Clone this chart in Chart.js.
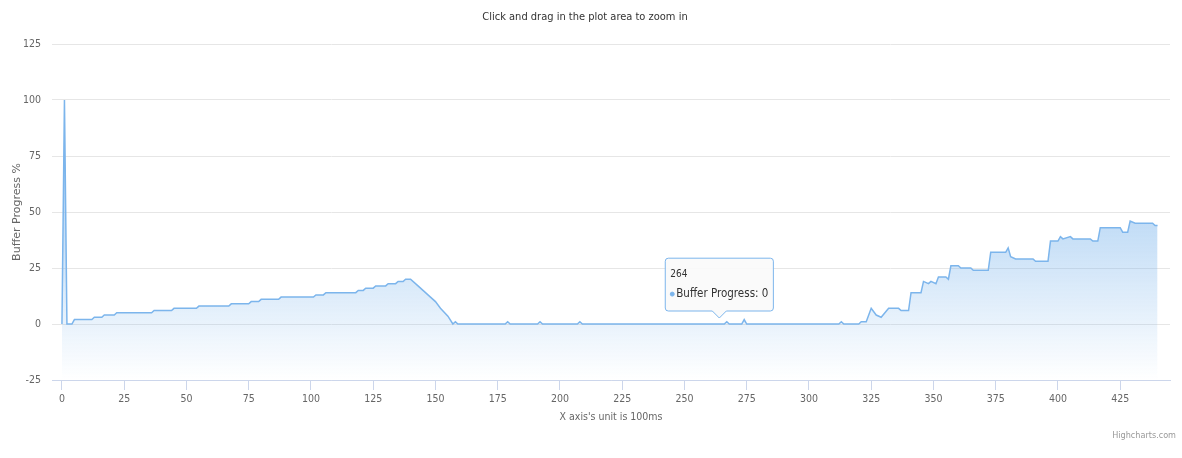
<!DOCTYPE html>
<html>
<head>
<meta charset="utf-8">
<script src="https://cdn.jsdelivr.net/npm/chart.js@4/dist/chart.umd.min.js"></script>
<style>
  html, body { margin: 0; padding: 0; background: #fff; }
  #wrap { width: 1182px; height: 458px; position: relative; }
</style>
</head>
<body>
<div id="wrap"><canvas id="bufferChart"></canvas></div>
<script>
// ─── data (break points of the curve) ───
const timeSteps = [0, 1, 2, 4, 5, 12, 13, 16, 17, 21, 22, 36, 37, 44, 45, 54, 55, 67, 68, 75, 76, 79, 80, 87, 88,
    101, 102, 105, 106, 118, 119, 121, 122, 125, 126, 130, 131, 134, 135, 137, 138, 140, 143, 145, 146, 148, 150,
    152, 155, 157, 158, 159, 178, 179, 180, 191, 192, 193, 207, 208, 209, 264, 266, 267, 268, 273, 274, 275,
    312, 313, 314, 320, 321, 323, 325, 327, 329, 332, 336, 337, 340, 341, 345, 346, 348, 349, 351, 352, 355,
    356, 357, 360, 361, 365, 366, 372, 373, 379, 380, 381, 383, 390, 391, 396, 397, 400, 401, 402, 405, 406,
    413, 414, 416, 417, 425, 426, 428, 429, 431, 438, 439, 440];
const bufferProgress = [0, 100, 0, 0, 2, 2, 3, 3, 4, 4, 5, 5, 6, 6, 7, 7, 8, 8, 9, 9, 10, 10, 11, 11, 12,
    12, 13, 13, 14, 14, 15, 15, 16, 16, 17, 17, 18, 18, 19, 19, 20, 20, 17, 15, 14, 12, 10,
    7, 3.5, 0, 1, 0, 0, 1, 0, 0, 1, 0, 0, 1, 0, 0, 0, 1, 0, 0, 2, 0,
    0, 1, 0, 0, 1, 1, 7, 4, 3, 7, 7, 6, 6, 14, 14, 19, 18, 19, 18, 21, 21,
    20, 26, 26, 25, 25, 24, 24, 32, 32, 34, 30, 29, 29, 28, 28, 37, 37, 39, 38, 39, 38,
    38, 37, 37, 43, 43, 41, 41, 46, 45, 45, 44, 44];
const xTicks = [0, 25, 50, 75, 100, 125, 150, 175, 200, 225, 250, 275, 300, 325, 350, 375, 400, 425];
const yTicks = [-25, 0, 25, 50, 75, 100, 125];
const tooltipAt = 264;

const NARROW = "'Liberation Sans Narrow', 'DejaVu Sans Condensed', sans-serif";

// Highcharts style credits in the corner
const creditsPlugin = {
    id: 'credits',
    afterDraw(chart) {
        const c = chart.ctx;
        c.save();
        c.font = '9px ' + NARROW;
        c.fillStyle = '#999';
        c.textAlign = 'right';
        c.textBaseline = 'alphabetic';
        c.fillText('Highcharts.com', 1176, 438);
        c.restore();
    }
};

window.onload = function() {
    const ctx = document.getElementById('bufferChart');
    const chart = new Chart(ctx, {
        type: 'line',
        data: {
            datasets: [{
                label: 'Buffer Progress',
                data: timeSteps.map((x, i) => ({ x: x, y: bufferProgress[i] })),
                borderColor: '#7cb5ec',
                borderWidth: 1.5,
                pointRadius: 0,
                pointHoverRadius: 0,
                tension: 0,
                fill: 'start',
                backgroundColor: (c) => {
                    const area = c.chart.chartArea;
                    if (!area) return 'rgba(124,181,236,0.3)';
                    const g = c.chart.ctx.createLinearGradient(0, area.top, 0, area.bottom);
                    g.addColorStop(0, 'rgba(124,181,236,1)');
                    g.addColorStop(1, 'rgba(124,181,236,0)');
                    return g;
                }
            }]
        },
        options: {
            responsive: true,
            maintainAspectRatio: false,
            animation: false,
            events: [],
            layout: { padding: { left: 0, right: 12, top: 0, bottom: 0 } },
            scales: {
                x: {
                    type: 'linear',
                    min: -4,
                    max: 445,
                    afterBuildTicks: (s) => { s.ticks = xTicks.map(v => ({ value: v })); },
                    afterFit: (s) => { s.height = 78; },
                    grid: {
                        drawOnChartArea: false,
                        drawTicks: true,
                        tickLength: 10,
                        color: '#ccd6eb'
                    },
                    border: { color: '#ccd6eb' },
                    ticks: {
                        padding: 3,
                        maxRotation: 0,
                        autoSkip: false,
                        color: '#666',
                        font: { family: NARROW, size: 10.5 }
                    },
                    title: {
                        display: true,
                        text: "X axis's unit is 100ms",
                        color: '#666',
                        font: { family: NARROW, size: 10.5 },
                        padding: { top: 4, bottom: 34 }
                    }
                },
                y: {
                    min: -25,
                    max: 125,
                    afterBuildTicks: (s) => { s.ticks = yTicks.map(v => ({ value: v })); },
                    afterFit: (s) => { s.width = 52; },
                    grid: { color: '#e6e6e6', drawTicks: false },
                    border: { display: false },
                    ticks: {
                        padding: 11,
                        color: '#666',
                        font: { family: NARROW, size: 10.5 }
                    },
                    title: {
                        display: true,
                        text: 'Buffer Progress %',
                        color: '#666',
                        font: { family: "'DejaVu Sans', sans-serif", size: 11 },
                        padding: { top: 10.4, bottom: 0 }
                    }
                }
            },
            plugins: {
                legend: { display: false },
                title: {
                    display: true,
                    text: 'Click and drag in the plot area to zoom in',
                    color: '#333',
                    font: { family: NARROW, size: 11, weight: 'normal' },
                    padding: { top: 11, bottom: 19.8 }
                },
                tooltip: {
                    enabled: true,
                    yAlign: 'bottom',
                    xAlign: 'center',
                    backgroundColor: 'rgba(250,250,250,0.92)',
                    borderColor: '#7cb5ec',
                    borderWidth: 1,
                    cornerRadius: 3,
                    caretSize: 7,
                    caretPadding: 6,
                    padding: { x: 5, y: 10 },
                    titleColor: '#333',
                    bodyColor: '#333',
                    titleFont: { family: NARROW, size: 10, weight: 'normal' },
                    bodyFont: { family: NARROW, size: 11.5 },
                    titleMarginBottom: 7,
                    displayColors: true,
                    usePointStyle: true,
                    boxWidth: 4,
                    boxHeight: 4,
                    callbacks: {
                        title: (items) => String(items[0].parsed.x),
                        label: (item) => 'Buffer Progress: ' + item.parsed.y,
                        labelPointStyle: () => ({ pointStyle: 'circle', rotation: 0 }),
                        labelColor: () => ({ borderColor: '#7cb5ec', backgroundColor: '#7cb5ec' })
                    }
                }
            }
        },
        plugins: [creditsPlugin]
    });

    // show the tooltip that is open in the picture
    const idx = timeSteps.indexOf(tooltipAt);
    const meta = chart.getDatasetMeta(0);
    const pt = meta.data[idx];
    chart.tooltip.setActiveElements([{ datasetIndex: 0, index: idx }], { x: pt.x, y: pt.y });
    chart.update();
};
</script>
</body>
</html>
